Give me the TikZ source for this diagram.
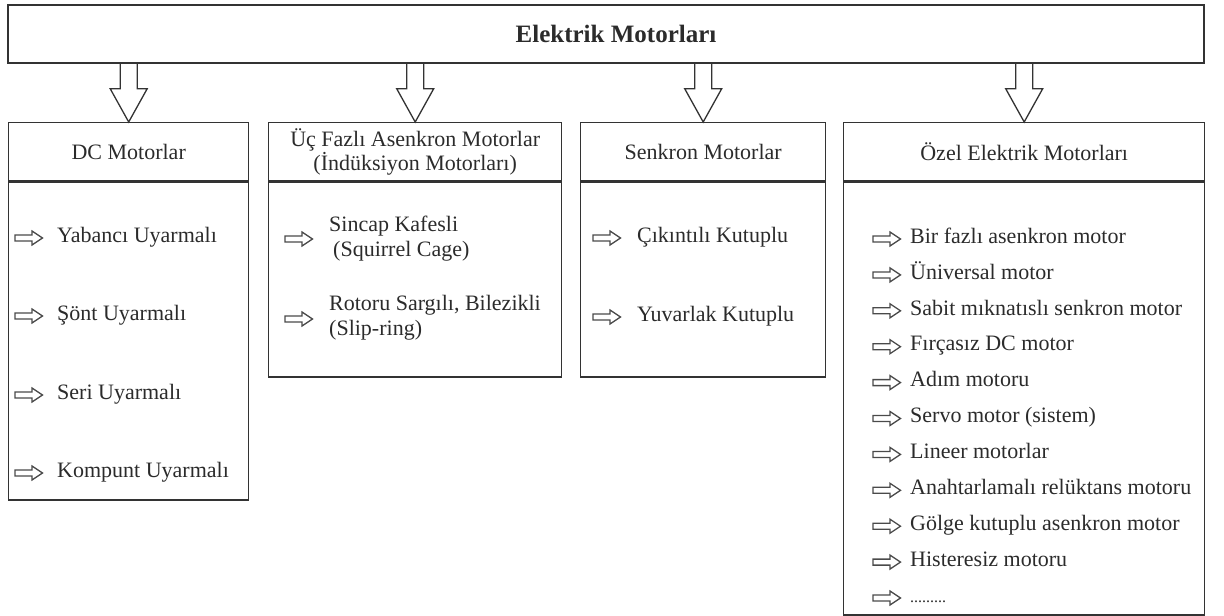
\documentclass[tikz,border=0pt]{standalone}
\usepackage{fontspec}
\setmainfont{Liberation Serif}
\usetikzlibrary{calc}
\definecolor{ink}{HTML}{2B2B2B}
\definecolor{rule}{HTML}{333333}
\definecolor{arrowink}{HTML}{4A4A4A}
\begin{document}
\begin{tikzpicture}[x=1pt,y=-1pt,
  box/.style={draw=rule,line width=1.4pt,rectangle,inner sep=0pt,text=ink,
    font=\fontsize{22}{24}\selectfont,align=center},
  item/.style={text=ink,font=\fontsize{22}{25}\selectfont,inner sep=0pt,align=left},
  blockarr/.style={draw=rule,line width=1.3pt,line join=miter},
  listarr/.pic={\draw[arrowink,line width=1.3pt,line join=miter,yshift=2pt]
    (0,-3) -- (17,-3) -- (17,-7) -- (27.5,0) -- (17,7) -- (17,3) -- (0,3) -- cycle;}
]
\useasboundingbox (0,0) rectangle (1224,616);

% main title box
\node[box,minimum width=1196pt,minimum height=58pt] (top) at (606,34)
  {\hspace*{20pt}\fontsize{25}{28}\selectfont\bfseries Elektrik Motorları};

% group headers
\node[box,minimum width=240pt,minimum height=58pt,anchor=north west] (dch) at (8,122) {DC Motorlar};
\node[box,minimum width=293pt,minimum height=58pt,anchor=north west] (ach) at (268,122)
  {Üç Fazlı Asenkron Motorlar\\(İndüksiyon Motorları)};
\node[box,minimum width=245pt,minimum height=58pt,anchor=north west] (snh) at (580,122) {Senkron Motorlar};
\node[box,minimum width=361pt,minimum height=58pt,anchor=north west] (ozh) at (843,122) {Özel Elektrik Motorları};

% group bodies
\node[box,minimum width=240pt,minimum height=318pt,anchor=north] (dcb) at (dch.south) {};
\node[box,minimum width=293pt,minimum height=195pt,anchor=north] (acb) at (ach.south) {};
\node[box,minimum width=245pt,minimum height=195pt,anchor=north] (snb) at (snh.south) {};
\node[box,minimum width=361pt,minimum height=433pt,anchor=north] (ozb) at (ozh.south) {};

% hollow block arrows from the title box to each group
\foreach \g in {dch,ach,snh,ozh}{
  \draw[blockarr] let \p1=(\g.north), \p2=(top.south) in
    (\x1-8.5pt,\y2) -- (\x1-8.5pt,\y2-25pt) -- (\x1-18.5pt,\y2-25pt) -- (\p1)
    -- (\x1+18.5pt,\y2-25pt) -- (\x1+8.5pt,\y2-25pt) -- (\x1+8.5pt,\y2);
}

% DC motors
\foreach \t/\y [count=\i] in {Yabancı Uyarmalı/240,Şönt Uyarmalı/318,Seri Uyarmalı/397,Kompunt Uyarmalı/475}{
  \pic at (15,\y) {listarr};
  \node[item,anchor=mid west] (dc\i) at (57,\y) {\t};
}

% three-phase induction motors
\pic at (285,241) {listarr};
\node[item,anchor=west] (ac1) at (329,239) {Sincap Kafesli\\\hspace*{4pt}(Squirrel Cage)};
\pic at (285,321) {listarr};
\node[item,anchor=west] (ac2) at (329,318) {Rotoru Sargılı, Bilezikli\\(Slip-ring)};

% synchronous motors
\pic at (593,240) {listarr};
\node[item,anchor=mid west] (sn1) at (637,240) {Çıkıntılı Kutuplu};
\pic at (593,319) {listarr};
\node[item,anchor=mid west] (sn2) at (637,319) {Yuvarlak Kutuplu};

% special motors
\foreach \t [count=\i] in {Bir fazlı asenkron motor,Üniversal motor,Sabit mıknatıslı senkron motor,
  Fırçasız DC motor,Adım motoru,Servo motor (sistem),Lineer motorlar,Anahtarlamalı relüktans motoru,
  Gölge kutuplu asenkron motor,Histeresiz motoru}{
  \pgfmathsetmacro{\yy}{241+35.9*(\i-1)}
  \pic at (873,\yy) {listarr};
  \node[item,anchor=mid west] (oz\i) at (910,\yy) {\t};
}
\pic at (873,600) {listarr};
\node[item,anchor=mid west] (oz11) at (910,600) {\fontsize{16}{18}\selectfont .........};
\end{tikzpicture}
\end{document}
